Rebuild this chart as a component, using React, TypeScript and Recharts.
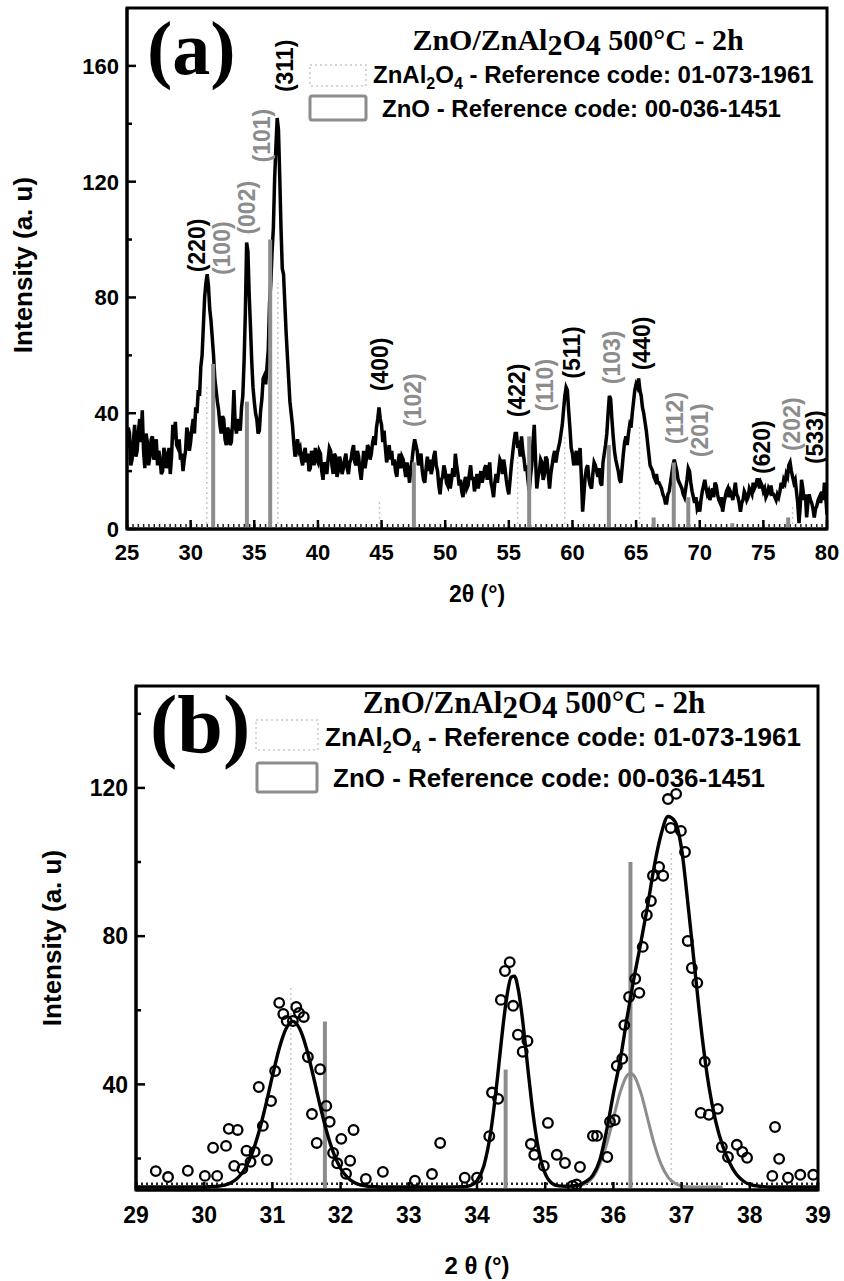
import React from 'react';
import { ComposedChart, Line, Scatter, XAxis, YAxis, ReferenceLine, ReferenceArea } from 'recharts';

const SANS = '"Liberation Sans", Arial, Helvetica, sans-serif';
const SERIF = '"Liberation Serif", "Times New Roman", Times, serif';
const INK = '#000';
const GRAY = '#8c8c8c';
const FAINT = '#c8c8c8';

// ---------- (a) full scan 25-80°, 0.1° step ----------
const SCAN_A_START = 25;
const SCAN_A_STEP = 0.1;
const SCAN_A_COUNTS = [
  28, 35, 33, 22, 24, 30, 36, 25, 27, 34, // 25
  38, 30, 41, 27, 21, 33, 30, 22, 25, 31, // 26
  32, 24, 26, 31, 22, 27, 24, 19, 20, 28, // 27
  26, 21, 24, 28, 19, 25, 36, 31, 37, 29, // 28
  28, 31, 24, 26, 20, 24, 27, 35, 33, 27, // 29
  30, 35, 38, 33, 42, 40, 48, 46, 56, 60, // 30
  70, 80, 85, 88, 84, 76, 72, 66, 60, 52, // 31
  48, 44, 41, 36, 33, 39, 38, 31, 29, 35, // 32
  34, 29, 30, 37, 48, 36, 33, 38, 36, 34, // 33
  42, 46, 58, 75, 99, 96, 81, 70, 58, 49, // 34
  44, 40, 38, 33, 34, 41, 45, 52, 53, 50, // 35
  56, 62, 78, 85, 96, 104, 121, 132, 142, 138, // 36
  122, 104, 90, 88, 78, 68, 60, 52, 44, 40, // 37
  36, 30, 25, 28, 31, 27, 28, 24, 22, 26, // 38
  28, 23, 26, 20, 21, 27, 25, 22, 28, 24, // 39
  23, 27, 26, 20, 17, 23, 22, 19, 24, 28, // 40
  27, 22, 19, 26, 25, 18, 20, 25, 23, 19, // 41
  21, 24, 26, 21, 19, 23, 24, 27, 29, 23, // 42
  22, 27, 25, 20, 17, 22, 27, 21, 24, 29, // 43
  28, 24, 26, 30, 32, 29, 35, 38, 42, 38, // 44
  36, 30, 34, 28, 23, 26, 29, 24, 27, 22, // 45
  24, 20, 18, 23, 26, 21, 25, 24, 21, 18, // 46
  23, 20, 16, 21, 24, 28, 31, 29, 27, 22, // 47
  24, 26, 20, 17, 16, 21, 25, 20, 24, 19, // 48
  21, 25, 27, 22, 20, 15, 12, 17, 18, 22, // 49
  20, 16, 15, 19, 14, 17, 21, 18, 26, 22, // 50
  19, 15, 17, 13, 11, 16, 18, 14, 15, 19, // 51
  22, 17, 18, 13, 16, 19, 14, 17, 20, 16, // 52
  18, 21, 22, 17, 20, 23, 16, 14, 11, 16, // 53
  19, 16, 20, 24, 23, 19, 24, 21, 17, 14, // 54
  12, 17, 22, 26, 30, 33, 33, 28, 29, 25, // 55
  32, 27, 24, 20, 22, 17, 13, 18, 22, 30, // 56
  36, 24, 14, 18, 20, 24, 23, 17, 19, 25, // 57
  24, 19, 14, 19, 22, 25, 27, 23, 26, 28, // 58
  30, 33, 36, 41, 46, 49, 48, 41, 35, 28, // 59
  26, 22, 24, 27, 22, 25, 28, 18, 6, 12, // 60
  18, 21, 22, 17, 15, 14, 19, 23, 22, 20, // 61
  18, 21, 16, 15, 23, 26, 29, 33, 40, 46, // 62
  45, 38, 32, 27, 24, 22, 20, 17, 16, 21, // 63
  26, 30, 32, 29, 33, 36, 35, 40, 44, 48, // 64
  50, 49, 52, 48, 46, 42, 40, 37, 34, 30, // 65
  26, 22, 21, 20, 18, 17, 19, 16, 16, 15, // 66
  14, 12, 11, 9, 9, 12, 13, 16, 19, 22, // 67
  24, 22, 20, 17, 16, 15, 14, 12, 11, 14, // 68
  17, 21, 20, 16, 13, 11, 9, 11, 7, 8, // 69
  6, 10, 13, 15, 17, 14, 12, 13, 10, 12, // 70
  14, 11, 16, 15, 12, 10, 9, 11, 6, 9, // 71
  11, 13, 14, 11, 13, 12, 10, 13, 16, 12, // 72
  11, 9, 6, 9, 10, 13, 12, 10, 11, 14, // 73
  13, 12, 16, 14, 15, 17, 17, 14, 16, 15, // 74
  13, 14, 11, 12, 14, 13, 15, 12, 12, 11, // 75
  10, 12, 11, 13, 16, 14, 17, 16, 19, 18, // 76
  22, 23, 20, 18, 16, 17, 13, 9, 2, 8, // 77
  17, 14, 10, 12, 4, 9, 12, 10, 9, 7, // 78
  4, 7, 8, 10, 11, 9, 13, 10, 16, 11, // 79
  5,
];

// ZnO reference 00-036-1451 (grey sticks)
const ZNO_POS = [31.77, 34.42, 36.25, 47.54, 56.6, 62.86, 66.38, 67.96, 69.1, 72.56, 76.95];
const ZNO_INT = [57, 44, 100, 23, 32, 29, 4, 23, 11, 2, 4];

// ZnAl2O4 reference 01-073-1961 (faint dotted sticks)
const SPINEL_POS = [31.27, 36.85, 44.84, 55.69, 59.39, 65.27, 77.3];
const SPINEL_INT_A = [50, 85, 10, 26, 32, 36, 8];
const SPINEL_INT_B = [66, 103];

// hkl annotations: angle / intensity of label centre, phase s = spinel, z = ZnO
const HKL_TEXT = ['(220)', '(100)', '(002)', '(101)', '(311)', '(400)', '(102)', '(422)', '(110)', '(511)', '(103)', '(440)', '(112)', '(201)', '(620)', '(202)', '(533)'];
const HKL_PHASE = ['s', 'z', 'z', 'z', 's', 's', 'z', 's', 'z', 's', 'z', 's', 'z', 'z', 's', 'z', 's'];
const HKL_T = [30.5, 32.46, 34.43, 35.6, 37.41, 44.87, 47.47, 55.64, 57.84, 59.96, 63.1, 65.46, 68.05, 70.01, 74.88, 77.24, 79.05];
const HKL_V = [98, 97, 111, 135.9, 160, 56.9, 44.5, 47.9, 49.7, 61, 59.3, 64.1, 38.3, 34.1, 28.3, 36.2, 31.7];

// ---------- (b) zoom 29-39° ----------
const B_OBS_T = [29.29, 29.47, 29.76, 30.01, 30.13, 30.19, 30.32, 30.36, 30.44, 30.49, 30.56, 30.62, 30.68, 30.74, 30.8, 30.86, 30.92, 30.98, 31.04, 31.1, 31.16, 31.21, 31.3, 31.35, 31.39, 31.46, 31.52, 31.58, 31.65, 31.7, 31.79, 31.84, 31.89, 31.95, 32.01, 32.08, 32.14, 32.19, 32.37, 32.62, 33.09, 33.34, 33.46, 33.82, 34.0, 34.18, 34.22, 34.31, 34.35, 34.41, 34.48, 34.53, 34.6, 34.67, 34.74, 34.79, 34.84, 34.98, 35.04, 35.17, 35.29, 35.4, 35.46, 35.51, 35.7, 35.76, 35.91, 35.95, 36.02, 36.05, 36.13, 36.16, 36.23, 36.32, 36.38, 36.43, 36.49, 36.55, 36.58, 36.67, 36.73, 36.8, 36.84, 36.92, 36.99, 37.05, 37.09, 37.15, 37.23, 37.28, 37.34, 37.4, 37.53, 37.59, 37.68, 37.81, 37.89, 37.96, 38.33, 38.37, 38.43, 38.56, 38.74, 38.93];
const B_OBS_V = [16.6, 15.0, 16.7, 15.3, 22.9, 15.3, 23.4, 28.0, 18.0, 27.7, 17.2, 22.1, 19.1, 21.8, 39.3, 28.8, 19.6, 35.5, 43.6, 62.0, 59.0, 57.1, 57.1, 60.9, 59.3, 58.2, 47.4, 32.0, 24.2, 44.1, 34.2, 29.9, 21.5, 18.7, 25.3, 15.9, 19.4, 27.7, 14.5, 16.4, 14.0, 15.8, 24.2, 14.8, 14.8, 26.0, 37.8, 36.1, 62.8, 70.6, 73.0, 61.2, 53.4, 48.8, 51.7, 23.9, 21.0, 18.0, 29.6, 21.0, 18.8, 12.6, 13.0, 17.7, 26.1, 26.1, 20.4, 29.9, 30.4, 45.0, 46.9, 56.0, 63.6, 68.5, 64.7, 77.1, 85.7, 89.5, 96.3, 98.7, 96.3, 117.0, 109.2, 118.4, 108.4, 102.7, 78.7, 71.4, 67.4, 32.3, 46.1, 31.8, 33.4, 23.1, 20.4, 23.7, 21.8, 20.2, 15.3, 28.5, 19.9, 14.8, 15.6, 15.6];

// total fit (black)
const B_FIT_T = [29.0, 29.5, 30.0, 30.1, 30.2, 30.3, 30.4, 30.5, 30.6, 30.7, 30.8, 30.9, 31.0, 31.1, 31.2, 31.3, 31.4, 31.5, 31.6, 31.7, 31.8, 31.9, 32.0, 32.1, 32.2, 32.3, 32.4, 32.5, 32.6, 33.0, 33.5, 33.8, 33.9, 34.0, 34.1, 34.2, 34.25, 34.3, 34.35, 34.4, 34.45, 34.5, 34.55, 34.6, 34.65, 34.7, 34.75, 34.8, 34.85, 34.9, 34.95, 35.0, 35.1, 35.2, 35.3, 35.4, 35.5, 35.6, 35.7, 35.8, 35.9, 36.0, 36.1, 36.2, 36.3, 36.4, 36.5, 36.6, 36.7, 36.8, 36.9, 37.0, 37.1, 37.2, 37.3, 37.4, 37.5, 37.6, 37.7, 37.8, 37.9, 38.0, 38.1, 38.2, 38.3, 38.5, 39.0];
const B_FIT_V = [12.3, 12.3, 12.3, 12.4, 12.5, 12.8, 13.5, 14.9, 17.3, 21.3, 27.0, 34.2, 42.2, 49.7, 55.0, 57.0, 55.0, 49.7, 42.2, 34.2, 27.0, 21.3, 17.3, 14.9, 13.5, 12.8, 12.5, 12.4, 12.3, 12.3, 12.3, 12.4, 12.7, 14.0, 18.0, 27.0, 33.8, 41.8, 50.5, 58.6, 65.1, 68.9, 69.2, 66.1, 60.1, 52.2, 43.5, 35.3, 28.2, 22.6, 18.6, 15.9, 13.3, 12.6, 12.5, 12.6, 12.9, 13.8, 15.5, 19.5, 27.5, 37.5, 46.6, 58.0, 68.5, 78.0, 88.0, 99.0, 107.5, 112.3, 111.0, 103.5, 87.5, 70.0, 53.0, 39.5, 30.0, 23.5, 19.0, 15.8, 14.0, 13.0, 12.6, 12.4, 12.3, 12.3, 12.3];

// ZnO (101) component (grey)
const B_ZNO_T = [35.3, 35.4, 35.5, 35.6, 35.7, 35.8, 35.9, 36.0, 36.1, 36.2, 36.25, 36.3, 36.4, 36.5, 36.6, 36.7, 36.8, 36.9, 37.0, 37.1, 37.3, 37.6];
const B_ZNO_V = [12.3, 12.4, 12.7, 13.3, 15.0, 18.4, 23.8, 30.9, 37.9, 42.4, 43.0, 42.4, 37.9, 30.9, 23.8, 18.4, 15.0, 13.3, 12.6, 12.4, 12.3, 12.3];

const A_X = [25, 30, 35, 40, 45, 50, 55, 60, 65, 70, 75, 80];
const A_Y = [0, 20, 40, 60, 80, 100, 120, 140, 160];
const A_Y_LABELS = [0, 40, 80, 120, 160];
const B_X = [29, 30, 31, 32, 33, 34, 35, 36, 37, 38, 39];
const B_Y = [20, 40, 60, 80, 100, 120, 140];
const B_Y_LABELS = [40, 80, 120];
const B_Y_MIN = 11.5;
const B_Y_MAX = 147.5;

const scanA = SCAN_A_COUNTS.map((v, i) => ({ t: +(SCAN_A_START + i * SCAN_A_STEP).toFixed(2), v }));
const hklA = HKL_TEXT.map((text, i) => ({ t: HKL_T[i], v: HKL_V[i], text, phase: HKL_PHASE[i] }));
const obsB = B_OBS_T.map((t, i) => ({ t, v: B_OBS_V[i] }));
const fitB = B_FIT_T.map((t, i) => ({ t, v: B_FIT_V[i] }));
const znoB = B_ZNO_T.map((t, i) => ({ t, v: B_ZNO_V[i] }));

// inward tick + label below (tickSize/tickMargin are 0, so y is the axis line)
const XTick = (p: any) => {
  const { x, y, payload, len, fontSize, dy } = p;
  return (
    <g>
      <line x1={x} x2={x} y1={y} y2={y - len} stroke={INK} strokeWidth={2.5} />
      <text x={x} y={y + dy} textAnchor="middle" fontFamily={SANS} fontWeight="bold" fontSize={fontSize} fill={INK}>
        {payload.value}
      </text>
    </g>
  );
};

const YTick = (p: any) => {
  const { x, y, payload, labels, fontSize } = p;
  const major = labels.includes(payload.value);
  return (
    <g>
      <line x1={x} x2={x + (major ? 9 : 5)} y1={y} y2={y} stroke={INK} strokeWidth={2.5} />
      {major && (
        <text x={x - 8} y={y} dy="0.36em" textAnchor="end" fontFamily={SANS} fontWeight="bold" fontSize={fontSize} fill={INK}>
          {payload.value}
        </text>
      )}
    </g>
  );
};

const HklLabel = (p: any) => {
  const { cx, cy, payload } = p;
  if (cx == null || cy == null) return null;
  return (
    <text
      x={cx}
      y={cy}
      transform={`rotate(-90 ${cx} ${cy})`}
      textAnchor="middle"
      dominantBaseline="central"
      fontFamily={SANS}
      fontWeight="bold"
      fontSize={23}
      fill={payload.phase === 'z' ? GRAY : INK}
    >
      {payload.text}
    </text>
  );
};

const OpenCircle = (p: any) => {
  const { cx, cy } = p;
  if (cx == null || cy == null) return null;
  return <circle cx={cx} cy={cy} r={4.8} fill="none" stroke={INK} strokeWidth={2.3} />;
};

const PanelA = () => (
  <ComposedChart width={844} height={620} margin={{ top: 8, right: 17, bottom: 51, left: 67 }}>
    <XAxis
      dataKey="t"
      type="number"
      domain={[25, 80]}
      ticks={A_X}
      interval={0}
      allowDataOverflow
      height={40}
      tickSize={0}
      tickMargin={0}
      axisLine={{ stroke: INK, strokeWidth: 3 }}
      tick={(p: any) => <XTick {...p} len={9} fontSize={22} dy={31} />}
    />
    <YAxis
      dataKey="v"
      type="number"
      domain={[0, 180]}
      ticks={A_Y}
      interval={0}
      allowDataOverflow
      width={60}
      tickSize={0}
      tickMargin={0}
      axisLine={{ stroke: INK, strokeWidth: 3 }}
      tick={(p: any) => <YTick {...p} labels={A_Y_LABELS} fontSize={22} />}
    />
    <ReferenceArea x1={25} x2={80} y1={0} y2={180} fill="none" stroke={INK} strokeWidth={3} ifOverflow="visible" />
    {SPINEL_POS.map((pos, i) => (
      <ReferenceLine
        key={`sa${i}`}
        segment={[{ x: pos, y: 0 }, { x: pos, y: SPINEL_INT_A[i] }]}
        stroke={FAINT}
        strokeWidth={1.5}
        strokeDasharray="2 3"
      />
    ))}
    <ReferenceLine y={1.2} stroke="#222" strokeWidth={3} strokeDasharray="1.5 3.8" />
    <Line data={scanA} dataKey="v" type="linear" stroke={INK} strokeWidth={3.5} dot={false} isAnimationActive={false} />
    {ZNO_POS.map((pos, i) => (
      <ReferenceLine
        key={`za${i}`}
        segment={[{ x: pos, y: 0 }, { x: pos, y: ZNO_INT[i] }]}
        stroke={GRAY}
        strokeWidth={4}
      />
    ))}
    <Scatter data={hklA} shape={HklLabel} isAnimationActive={false} />
  </ComposedChart>
);

const PanelB = () => (
  <ComposedChart width={844} height={661} margin={{ top: 66, right: 26, bottom: 51, left: 76 }}>
    <XAxis
      dataKey="t"
      type="number"
      domain={[29, 39]}
      ticks={B_X}
      interval={0}
      allowDataOverflow
      height={40}
      tickSize={0}
      tickMargin={0}
      axisLine={{ stroke: INK, strokeWidth: 3 }}
      tick={(p: any) => <XTick {...p} len={8} fontSize={23} dy={33} />}
    />
    <YAxis
      dataKey="v"
      type="number"
      domain={[B_Y_MIN, B_Y_MAX]}
      ticks={B_Y}
      interval={0}
      allowDataOverflow
      width={60}
      tickSize={0}
      tickMargin={0}
      axisLine={{ stroke: INK, strokeWidth: 3 }}
      tick={(p: any) => <YTick {...p} labels={B_Y_LABELS} fontSize={23} />}
    />
    <ReferenceArea x1={29} x2={39} y1={B_Y_MIN} y2={B_Y_MAX} fill="none" stroke={INK} strokeWidth={3} ifOverflow="visible" />
    {SPINEL_POS.slice(0, 2).map((pos, i) => (
      <ReferenceLine
        key={`sb${i}`}
        segment={[{ x: pos, y: B_Y_MIN }, { x: pos, y: SPINEL_INT_B[i] }]}
        stroke={FAINT}
        strokeWidth={1.5}
        strokeDasharray="2 3"
      />
    ))}
    <ReferenceLine y={13.2} stroke="#222" strokeWidth={2.5} strokeDasharray="2 3" />
    {ZNO_POS.slice(0, 3).map((pos, i) => (
      <ReferenceLine
        key={`zb${i}`}
        segment={[{ x: pos, y: B_Y_MIN }, { x: pos, y: ZNO_INT[i] }]}
        stroke={GRAY}
        strokeWidth={4}
      />
    ))}
    <Line data={znoB} dataKey="v" type="monotone" stroke={GRAY} strokeWidth={3} dot={false} isAnimationActive={false} />
    <Line data={fitB} dataKey="v" type="monotone" stroke={INK} strokeWidth={3.4} dot={false} isAnimationActive={false} />
    <Scatter data={obsB} shape={OpenCircle} isAnimationActive={false} />
  </ComposedChart>
);

const Annotations = () => (
  <svg width={844} height={1281} style={{ position: 'absolute', left: 0, top: 0, pointerEvents: 'none' }}>
    {/* panel (a) */}
    <text x={147} y={74} fontFamily={SERIF} fontWeight="bold" fontSize={76} fill={INK}>(a)</text>
    <text x={578} y={50} textAnchor="middle" fontFamily={SERIF} fontWeight="bold" fontSize={30} fill={INK}>
      ZnO/ZnAl<tspan dy={5}>2</tspan><tspan dy={-5}>O</tspan><tspan dy={5}>4</tspan><tspan dy={-5}> 500°C - 2h</tspan>
    </text>
    <rect x={310} y={65} width={56} height={21} fill="none" stroke={FAINT} strokeWidth={1.5} strokeDasharray="2 3" />
    <text x={373} y={83} fontFamily={SANS} fontWeight="bold" fontSize={24} fill={INK}>
      ZnAl<tspan fontSize={16} dy={6}>2</tspan><tspan dy={-6}>O</tspan><tspan fontSize={16} dy={6}>4</tspan><tspan dy={-6}> - Reference code: 01-073-1961</tspan>
    </text>
    <rect x={310} y={96} width={56} height={24} rx={2} fill="none" stroke={GRAY} strokeWidth={3} />
    <text x={382} y={117} fontFamily={SANS} fontWeight="bold" fontSize={24} fill={INK}>ZnO - Reference code: 00-036-1451</text>
    <text x={23} y={265} transform="rotate(-90 23 265)" textAnchor="middle" dominantBaseline="central" fontFamily={SANS} fontWeight="bold" fontSize={26} fill={INK}>
      Intensity (a. u)
    </text>
    <text x={477} y={602} textAnchor="middle" fontFamily={SANS} fontWeight="bold" fontSize={23} fill={INK}>2θ (°)</text>

    {/* panel (b) */}
    <text x={150} y={752} fontFamily={SERIF} fontWeight="bold" fontSize={82} fill={INK}>(b)</text>
    <text x={534} y={713} textAnchor="middle" fontFamily={SERIF} fontWeight="bold" fontSize={31} fill={INK}>
      ZnO/ZnAl<tspan dy={5}>2</tspan><tspan dy={-5}>O</tspan><tspan dy={5}>4</tspan><tspan dy={-5}> 500°C - 2h</tspan>
    </text>
    <rect x={256} y={720} width={62} height={30} fill="none" stroke={FAINT} strokeWidth={1.5} strokeDasharray="2 3" />
    <text x={325} y={746} fontFamily={SANS} fontWeight="bold" fontSize={26} fill={INK}>
      ZnAl<tspan fontSize={16} dy={7}>2</tspan><tspan dy={-7}>O</tspan><tspan fontSize={16} dy={7}>4</tspan><tspan dy={-7}> - Reference code: 01-073-1961</tspan>
    </text>
    <rect x={257} y={763} width={60} height={29} rx={2} fill="none" stroke={GRAY} strokeWidth={3} />
    <text x={333} y={787} fontFamily={SANS} fontWeight="bold" fontSize={26} fill={INK}>ZnO - Reference code: 00-036-1451</text>
    <text x={52} y={938} transform="rotate(-90 52 938)" textAnchor="middle" dominantBaseline="central" fontFamily={SANS} fontWeight="bold" fontSize={26} fill={INK}>
      Intensity (a. u)
    </text>
    <text x={477} y={1274} textAnchor="middle" fontFamily={SANS} fontWeight="bold" fontSize={24} fill={INK}>2 θ (°)</text>
  </svg>
);

export default function App() {
  return (
    <div style={{ position: 'absolute', left: 0, top: 0, width: 844, height: 1281, background: '#fff', overflow: 'hidden' }}>
      <div style={{ position: 'absolute', left: 0, top: 0 }}>
        <PanelA />
      </div>
      <div style={{ position: 'absolute', left: 0, top: 620 }}>
        <PanelB />
      </div>
      <Annotations />
    </div>
  );
}
